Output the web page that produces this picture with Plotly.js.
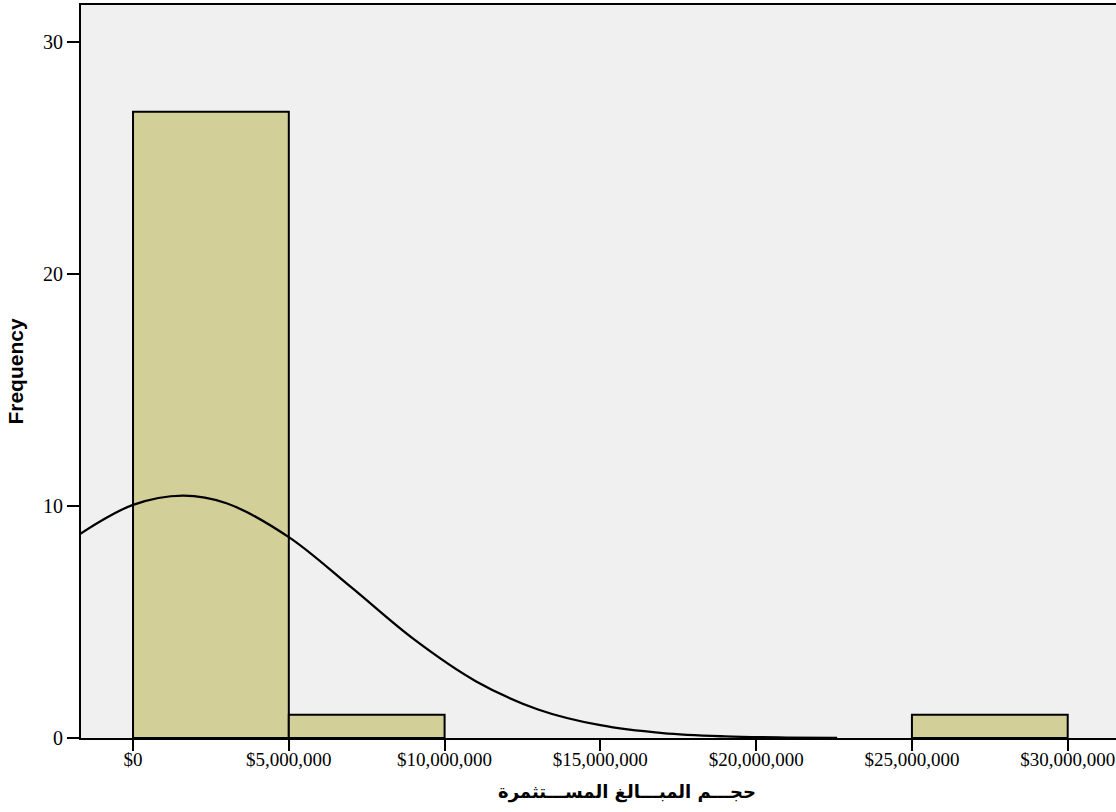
<!DOCTYPE html>
<html>
<head>
<meta charset="utf-8">
<script src="https://cdn.plot.ly/plotly-3.0.1.min.js"></script>
<style>html,body{margin:0;padding:0;background:#fff;}#chart{width:1116px;height:812px;}</style>
</head>
<body>
<div id="chart"></div>
<script>
// Histogram bins (centers, in dollars) and frequencies
const binCenters = [2500000, 7500000, 27500000];
const binFreq = [27, 1, 1];
const binWidth = 5000000;

// Normal curve points
const curveX = [-1700000, 0, 1600000, 3000000, 5000000, 7000000, 9000000, 11000000, 13000000, 15000000, 17000000, 19000000, 21000000, 22600000];
const curveY = [8.8, 10.05, 10.45, 10.12, 8.66, 6.5, 4.27, 2.45, 1.23, 0.55, 0.21, 0.07, 0.02, 0.005];

// Tick labels
const xTickVals = [0, 5000000, 10000000, 15000000, 20000000, 25000000, 30000000];
const xTickText = ['$0', '$5,000,000', '$10,000,000', '$15,000,000', '$20,000,000', '$25,000,000', '$30,000,000'];
const yTickVals = [0, 10, 20, 30];
const yTickText = ['0', '10', '20', '30'];

const xTitle = 'حجـــم المبـــالغ المســـتثمرة';
const yTitle = 'Frequency';

const traces = [
  {
    type: 'bar',
    x: binCenters,
    y: binFreq,
    width: binWidth,
    marker: {color: '#d3cf98', line: {color: '#000', width: 2}},
    hoverinfo: 'x+y'
  },
  {
    type: 'scatter',
    mode: 'lines',
    x: curveX,
    y: curveY,
    line: {color: '#000', width: 2.3, shape: 'spline'},
    hoverinfo: 'skip'
  }
];

const layout = {
  width: 1116,
  height: 812,
  margin: {l: 81, r: 0, t: 5, b: 74},
  paper_bgcolor: '#ffffff',
  plot_bgcolor: '#f0f0f0',
  showlegend: false,
  bargap: 0,
  xaxis: {
    range: [-1670000, 31550000],
    tickvals: xTickVals,
    ticktext: xTickText,
    ticks: 'outside',
    ticklen: 11,
    tickwidth: 2,
    tickcolor: '#000',
    ticklabeloverflow: 'allow',
    ticklabelstandoff: -8,
    showline: true,
    linecolor: '#000',
    linewidth: 2,
    mirror: true,
    showgrid: false,
    zeroline: false,
    tickfont: {family: '"Liberation Serif", "Times New Roman", serif', size: 19, color: '#000'}
  },
  yaxis: {
    range: [0, 31.6],
    tickvals: yTickVals,
    ticktext: yTickText,
    ticks: 'outside',
    ticklen: 12,
    tickwidth: 2,
    tickcolor: '#000',
    showline: true,
    linecolor: '#000',
    linewidth: 2,
    showgrid: false,
    zeroline: false,
    tickfont: {family: '"Liberation Serif", "Times New Roman", serif', size: 20, color: '#000'},
    title: {text: yTitle, font: {family: '"Liberation Sans", Arial, sans-serif', size: 21, color: '#000', weight: 'bold'}, standoff: 14}
  },
  annotations: [
    {
      text: '<b>' + xTitle + '</b>',
      xref: 'paper', yref: 'paper',
      x: (627 - 81) / 1035, y: -0.0737,
      xanchor: 'center', yanchor: 'middle',
      showarrow: false,
      font: {family: '"DejaVu Sans", Arial, sans-serif', size: 18, color: '#000'}
    }
  ]
};

Plotly.newPlot('chart', traces, layout, {displayModeBar: false, staticPlot: true});
</script>
</body>
</html>
